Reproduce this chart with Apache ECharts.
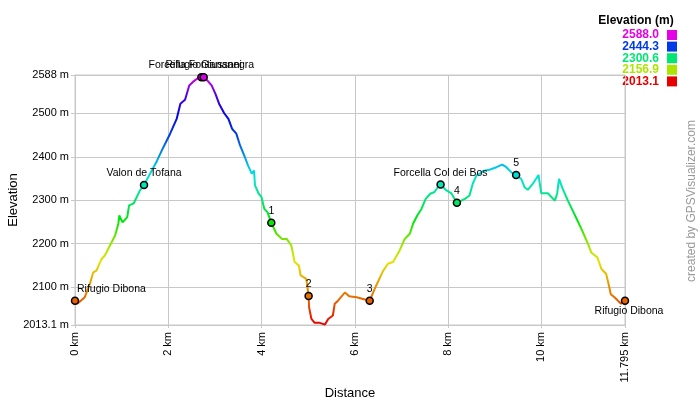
<!DOCTYPE html>
<html>
<head>
<meta charset="utf-8">
<script src="https://cdn.jsdelivr.net/npm/echarts@6/dist/echarts.min.js"></script>
<style>html,body{margin:0;padding:0;background:#fff}#c{width:700px;height:400px}</style>
</head>
<body>
<div id="c"></div>
<script>
// ---- data ----
const distKm = [0.00,0.05,0.21,0.32,0.39,0.46,0.57,0.64,0.75,0.86,0.93,0.95,1.02,1.12,1.16,1.26,1.39,1.48,1.61,1.76,1.86,2.04,2.18,2.26,2.36,2.45,2.55,2.66,2.80,2.93,3.01,3.09,3.20,3.29,3.37,3.46,3.54,3.64,3.71,3.79,3.84,3.86,3.94,4.00,4.06,4.13,4.21,4.32,4.44,4.54,4.64,4.71,4.80,4.84,4.96,5.01,5.02,5.07,5.14,5.25,5.36,5.43,5.53,5.57,5.64,5.79,5.88,6.04,6.18,6.32,6.46,6.61,6.71,6.82,6.96,7.07,7.18,7.25,7.34,7.43,7.52,7.62,7.71,7.78,7.84,7.95,8.07,8.19,8.36,8.46,8.53,8.61,8.68,8.75,8.89,9.04,9.16,9.25,9.36,9.46,9.57,9.64,9.71,9.82,9.94,10.00,10.14,10.29,10.34,10.38,10.46,10.57,10.71,10.86,11.00,11.07,11.20,11.29,11.39,11.45,11.49,11.57,11.71,11.795];
const elevM = [2069,2062,2077,2108,2134,2138,2165,2173,2196,2219,2246,2265,2249,2261,2288,2293,2322,2335,2361,2391,2414,2453,2487,2522,2531,2564,2574,2583,2580,2564,2545,2522,2500,2487,2464,2453,2426,2400,2380,2361,2368,2334,2315,2307,2280,2272,2248,2223,2211,2211,2196,2158,2150,2127,2119,2080,2054,2027,2018,2018,2014,2027,2035,2062,2069,2088,2079,2077,2073,2069,2104,2138,2154,2158,2184,2211,2223,2246,2265,2280,2303,2315,2319,2330,2336,2324,2316,2294,2303,2311,2338,2357,2361,2367,2370,2376,2382,2376,2364,2358,2349,2330,2324,2338,2358,2316,2316,2299,2315,2349,2326,2299,2268,2234,2200,2180,2169,2142,2131,2104,2084,2077,2062,2069];

const wptNames = ['Rifugio Dibona','Valon de Tofana','Forcella Fontananegra','Rifugio Giussani','1','2','3','Forcella Col dei Bos','4','5','Rifugio Dibona'];
const wptKm    = [0, 1.48, 2.71, 2.76, 4.21, 5.01, 6.32, 7.84, 8.19, 9.46, 11.795];
const wptEle   = [2069, 2335, 2583, 2583, 2248, 2080, 2069, 2336, 2294, 2358, 2069];

const xTicks = [0, 2, 4, 6, 8, 10, 11.795];
const yTicks = [2013.1, 2100, 2200, 2300, 2400, 2500, 2588];
const legendValues = ['2588.0', '2444.3', '2300.6', '2156.9', '2013.1'];
const legendColors = ['#e600e6', '#003ae6', '#00e673', '#ace600', '#e60000'];
const rampColors = ['#e60000','#e62a00','#e65200','#e67a00','#e69c00','#e6bf00','#e6e100','#bee600','#8be600','#41e600','#00e606','#00e63d','#00e674','#00e6a1','#00e6cf','#00cfe6','#00a1e6','#0073e6','#0045e6','#0026e6','#0008e6','#1f00e6','#4d00e6','#9900e6','#e600e6'];

// ---- build ----
const FONT = 'Liberation Sans, Arial, sans-serif';
const lineData = distKm.map((d, i) => [d, elevM[i]]);
const lastIdx = wptNames.length - 1;
const wptData = wptNames.map((n, i) => {
  const item = { name: n, value: [wptKm[i], wptEle[i]] };
  if (i === 0) item.label = { position: 'top', align: 'left', offset: [2, 0] };
  if (i === lastIdx) item.label = { position: 'bottom', offset: [4, -1] };
  return item;
});

const graphics = [
  { type: 'text', x: 636, y: 21, style: { text: 'Elevation (m)', font: 'bold 12px ' + FONT, fill: '#000', textAlign: 'center', textVerticalAlign: 'middle' } },
  { type: 'text', x: 692, y: 201, rotation: Math.PI / 2, style: { text: 'created by GPSVisualizer.com', font: '12px ' + FONT, fill: '#999', textAlign: 'center', textVerticalAlign: 'middle' } }
];
legendValues.forEach((v, i) => {
  const y = 35 + i * 11.6;
  graphics.push({ type: 'text', x: 659, y: y, style: { text: v, font: 'bold 12px ' + FONT, fill: legendColors[i], textAlign: 'right', textVerticalAlign: 'middle' } });
  graphics.push({ type: 'rect', shape: { x: 667, y: y - 5, width: 10, height: 10 }, style: { fill: legendColors[i] } });
});

const chart = echarts.init(document.getElementById('c'), null, { renderer: 'canvas' });
chart.setOption({
  animation: false,
  backgroundColor: '#fff',
  textStyle: { fontFamily: FONT },
  grid: { left: 75, right: 75, top: 75, bottom: 75, containLabel: false, outerBoundsMode: 'none', show: true, borderColor: '#c8c8c8', borderWidth: 1 },
  visualMap: {
    type: 'continuous', show: false, dimension: 1, min: 2013.1, max: 2588, seriesIndex: [0, 1],
    inRange: { color: rampColors }
  },
  xAxis: {
    type: 'value', min: 0, max: 11.795,
    name: 'Distance', nameLocation: 'middle', nameGap: 62, nameMoveOverlap: false,
    nameTextStyle: { fontSize: 13, color: '#000' },
    axisLine: { show: true, lineStyle: { color: '#c8c8c8' } },
    axisTick: { show: true, length: 3, customValues: xTicks, lineStyle: { color: '#c8c8c8' } },
    axisLabel: { customValues: xTicks, rotate: 90, margin: 7, fontSize: 11, color: '#000', formatter: v => v + ' km' },
    splitLine: { show: true, lineStyle: { color: '#c8c8c8' } }
  },
  yAxis: {
    type: 'value', min: 2013.1, max: 2588,
    name: 'Elevation', nameLocation: 'middle', nameGap: 55, nameRotate: 90, nameMoveOverlap: false,
    nameTextStyle: { fontSize: 13, color: '#000' },
    axisLine: { show: true, lineStyle: { color: '#c8c8c8' } },
    axisTick: { show: true, length: 4, customValues: yTicks, lineStyle: { color: '#c8c8c8' } },
    axisLabel: { customValues: yTicks, margin: 6, fontSize: 11, color: '#000', formatter: v => v + ' m' },
    splitLine: { show: true, lineStyle: { color: '#c8c8c8' } }
  },
  series: [
    { type: 'line', data: lineData, showSymbol: false, lineStyle: { width: 2 }, z: 2 },
    { type: 'scatter', data: wptData, symbol: 'circle', symbolSize: 7, z: 3,
      itemStyle: { borderColor: '#000', borderWidth: 1.5, opacity: 1 },
      label: { show: true, position: 'top', distance: 2, fontSize: 10.5, color: '#000', formatter: p => p.name }
    }
  ],
  graphic: graphics
});
</script>
</body>
</html>
